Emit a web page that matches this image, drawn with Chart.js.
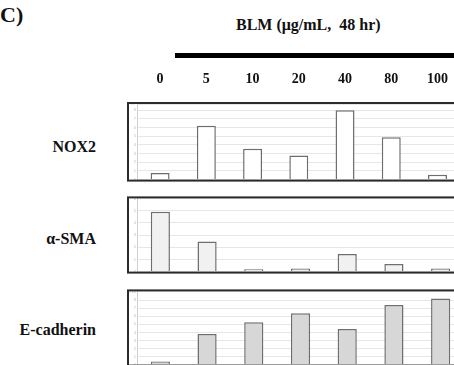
<!DOCTYPE html>
<html>
<head>
<meta charset="utf-8">
<script src="https://cdn.jsdelivr.net/npm/chart.js@4.4.1/dist/chart.umd.min.js"></script>
<style>
  html, body { margin:0; padding:0; width:454px; height:365px; overflow:hidden; background:#fff; }
  .t { position:absolute; font-family:"Liberation Serif", serif; font-weight:bold; color:#111; white-space:nowrap; }
  .box { position:absolute; }
</style>
</head>
<body>
<div class="t" style="left:0px; top:2px; font-size:22px;">C)</div>
<div class="t" style="left:236px; top:16px; font-size:16px;">BLM (μg/mL,&nbsp; 48 hr)</div>
<div style="position:absolute; left:175px; top:53px; width:300px; height:5px; background:#000;"></div>
<div class="t" id="lab0" style="right:358px; top:138px; font-size:16px;">NOX2</div>
<div class="t" id="lab1" style="right:358px; top:230px; font-size:16px;">α-SMA</div>
<div class="t" id="lab2" style="right:358px; top:321px; font-size:16px;">E-cadherin</div>

<div class="box" style="left:117px; top:60px; width:347px; height:123px;"><canvas id="c0"></canvas></div>
<div class="box" style="left:117px; top:195px; width:347px; height:80px;"><canvas id="c1"></canvas></div>
<div class="box" style="left:117px; top:288px; width:347px; height:80px;"><canvas id="c2"></canvas></div>

<script>
// ---- data ----
const doses = ["0", "5", "10", "20", "40", "80", "100"];
const nox2 = [0.77, 6.2, 3.54, 2.78, 7.97, 4.88, 0.57];
const aSMA = [4.9, 2.46, 0.2, 0.25, 1.44, 0.63, 0.25];
const eCadherin = [0.4, 3.8, 5.27, 6.38, 4.44, 7.4, 8.23];
const yMax = [8.7, 6, 9.1];

const framePlugin = {
  id: 'frame',
  afterDraw(chart) {
    const a = chart.chartArea, ctx = chart.ctx;
    ctx.save();
    ctx.strokeStyle = '#2b2b2b';
    ctx.lineWidth = 2;
    ctx.strokeRect(a.left - 9, a.top - 1, chart.width + 20, a.bottom - a.top + 2);
    ctx.restore();
  }
};

function makeChart(id, values, max, fill, showX, padTop) {
  return new Chart(document.getElementById(id), {
    type: 'bar',
    data: { labels: doses, datasets: [{ data: values, backgroundColor: fill, borderColor: '#6e6e6e', borderWidth: 1.5, barPercentage: 0.41, categoryPercentage: 1 }] },
    options: {
      responsive: true, maintainAspectRatio: false, animation: false,
      layout: { padding: { left: 10, right: 0, top: padTop, bottom: 3 } },
      plugins: { legend: { display: false }, tooltip: { enabled: false } },
      scales: {
        x: {
          display: showX, position: 'top',
          grid: { display: false, drawTicks: false }, border: { display: false },
          ticks: { color: '#111', padding: 16, font: { family: '"Liberation Serif", serif', weight: 'bold', size: 14 } },
          afterFit(s) { if (showX) s.height = 44; }
        },
        y: {
          min: 0, max: max,
          ticks: { stepSize: 1, color: '#bdbdbd', padding: 1, font: { size: 4 } },
          grid: { color: '#e6e6e6', lineWidth: 1, drawTicks: false },
          border: { color: '#cfcfcf', width: 1 },
          afterFit(s) { s.width = 10; }
        }
      }
    },
    plugins: [framePlugin]
  });
}

makeChart('c0', nox2, yMax[0], '#ffffff', true, 0);
makeChart('c1', aSMA, yMax[1], '#f1f1f1', false, 3);
makeChart('c2', eCadherin, yMax[2], '#d7d7d7', false, 3);
</script>
</body>
</html>
